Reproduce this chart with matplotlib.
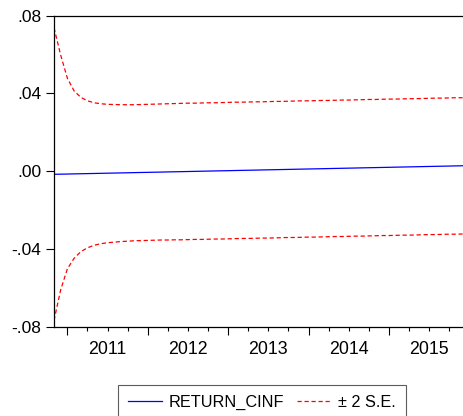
import pandas as pd
import matplotlib
matplotlib.use("Agg")
import matplotlib.pyplot as plt

plt.rcParams['font.family'] = ['Liberation Sans', 'DejaVu Sans']

# monthly forecast 2010M11 .. 2015M12
months = pd.period_range('2010-11', '2015-12', freq='M')

forecast = [-0.00160, -0.00153, -0.00146, -0.00138, -0.00131, -0.00124, -0.00117, -0.00110,
            -0.00102, -0.00095, -0.00088, -0.00081, -0.00073, -0.00066, -0.00059, -0.00052,
            -0.00045, -0.00037, -0.00030, -0.00023, -0.00016, -0.00009, -0.00001, 0.00006,
            0.00013, 0.00020, 0.00027, 0.00035, 0.00042, 0.00049, 0.00056, 0.00064,
            0.00071, 0.00078, 0.00085, 0.00092, 0.00100, 0.00107, 0.00114, 0.00121,
            0.00128, 0.00136, 0.00143, 0.00150, 0.00157, 0.00164, 0.00172, 0.00179,
            0.00186, 0.00193, 0.00200, 0.00208, 0.00215, 0.00222, 0.00229, 0.00237,
            0.00244, 0.00251, 0.00258, 0.00265, 0.00273, 0.00280]

upper = [0.0738, 0.0597, 0.0478, 0.0413, 0.0380, 0.0362, 0.0352, 0.0347, 0.0344, 0.0343,
         0.0342, 0.0342, 0.0342, 0.0343, 0.0344, 0.0345, 0.0346, 0.0347, 0.0348, 0.0349,
         0.0350, 0.0350, 0.0351, 0.0352, 0.0352, 0.0353, 0.0354, 0.0355, 0.0355, 0.0356,
         0.0357, 0.0357, 0.0358, 0.0359, 0.0359, 0.0360, 0.0361, 0.0362, 0.0362, 0.0363,
         0.0364, 0.0364, 0.0365, 0.0366, 0.0366, 0.0367, 0.0368, 0.0369, 0.0369, 0.0370,
         0.0371, 0.0371, 0.0372, 0.0373, 0.0373, 0.0374, 0.0375, 0.0376, 0.0376, 0.0377,
         0.0378, 0.0378]

lower = [-0.0768, -0.0610, -0.0502, -0.0448, -0.0414, -0.0394, -0.0381, -0.0373, -0.0368, -0.0365,
         -0.0362, -0.0360, -0.0358, -0.0357, -0.0356, -0.0355, -0.0354, -0.0354, -0.0353, -0.0353,
         -0.0352, -0.0351, -0.0351, -0.0350, -0.0349, -0.0349, -0.0348, -0.0347, -0.0346, -0.0346,
         -0.0345, -0.0344, -0.0344, -0.0343, -0.0342, -0.0341, -0.0341, -0.0340, -0.0339, -0.0339,
         -0.0338, -0.0337, -0.0336, -0.0336, -0.0335, -0.0334, -0.0334, -0.0333, -0.0332, -0.0331,
         -0.0331, -0.0330, -0.0329, -0.0329, -0.0328, -0.0327, -0.0326, -0.0326, -0.0325, -0.0324,
         -0.0324, -0.0323]

years = [2011, 2012, 2013, 2014, 2015]
yticks = [-0.08, -0.04, 0.0, 0.04, 0.08]
ytick_labels = ['-.08', '-.04', '.00', '.04', '.08']

# fractional year for each month
x = [p.year + (p.month - 1) / 12 for p in months]

fig = plt.figure(figsize=(4.64, 4.16), dpi=100)
ax = fig.add_axes([54 / 464, 89.3 / 416, 412 / 464, 311 / 416])

ax.plot(x, forecast, color='#0000ff', lw=0.9, label='RETURN_CINF')
ax.plot(x, upper, color='#ff0000', lw=0.9, dashes=(3.4, 2.2), label='± 2 S.E.')
ax.plot(x, lower, color='#ff0000', lw=0.9, dashes=(3.4, 2.2))

ax.set_xlim(x[0], x[-1] + 1 / 24)
ax.set_ylim(-0.08, 0.08)

ax.set_yticks(yticks)
ax.set_yticklabels(ytick_labels, fontsize=12.5)
ax.tick_params(axis='y', direction='out', length=5.5, width=0.8, pad=3.5)

# year boundaries as major ticks, quarters as minor
ax.set_xticks(years)
ax.set_xticklabels([])
ax.set_xticks([y + q / 4 for y in range(2010, 2016) for q in range(4)
               if x[0] <= y + q / 4 <= x[-1] and q != 0], minor=True)
ax.tick_params(axis='x', which='major', direction='out', length=5.5, width=0.8)
ax.tick_params(axis='x', which='minor', direction='out', length=3.1, width=0.8)

# year labels centred in each year
sec = ax.secondary_xaxis('bottom')
sec.set_xticks([y + 0.5 for y in years])
sec.set_xticklabels([str(y) for y in years], fontsize=12.8)
sec.tick_params(length=0, pad=10)
sec.spines['bottom'].set_visible(False)

for s in ax.spines.values():
    s.set_linewidth(0.9)

leg = fig.legend(loc='upper center', bbox_to_anchor=(261.7 / 464, 1 - 385 / 416),
                 ncol=2, fontsize=11.7, frameon=True, fancybox=False,
                 edgecolor='#333333', handlelength=2.15, handletextpad=0.4,
                 columnspacing=0.75, borderpad=0.6, borderaxespad=0)
leg.get_frame().set_linewidth(0.8)

fig.savefig('out.png', dpi=100)
